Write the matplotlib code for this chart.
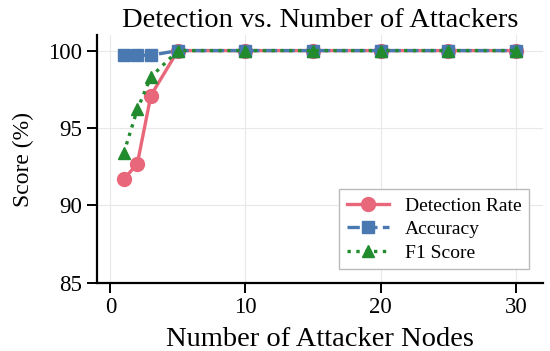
import matplotlib
matplotlib.use("Agg")
import matplotlib.pyplot as plt

plt.rcParams['font.family'] = ['Liberation Serif', 'DejaVu Serif']

# 攻击者节点数
attackers = [1, 2, 3, 5, 10, 15, 20, 25, 30]
detection_rate = [91.7, 92.7, 97.1, 100, 100, 100, 100, 100, 100]
accuracy = [99.7, 99.7, 99.7, 100, 100, 100, 100, 100, 100]
f1_score = [93.4, 96.2, 98.3, 100, 100, 100, 100, 100, 100]

fig, ax = plt.subplots(figsize=(5.5, 3.51), dpi=100)

ax.plot(attackers, detection_rate, '-o', color='#e8677a', lw=2.4, ms=10,
        label='Detection Rate')
ax.plot(attackers, accuracy, '--s', color='#4a78b0', lw=2.4, ms=8,
        label='Accuracy')
ax.plot(attackers, f1_score, ':^', color='#228b2e', lw=2.4, ms=8,
        label='F1 Score')

ax.set_title('Detection vs. Number of Attackers', fontsize=20.5, pad=6)
ax.set_xlabel('Number of Attacker Nodes', fontsize=20.5, labelpad=6)
ax.set_ylabel('Score (%)', fontsize=17, labelpad=10)
ax.set_xlim(-1, 32)
ax.set_ylim(85, 101)
ax.set_xticks([0, 10, 20, 30])
ax.set_yticks([85, 90, 95, 100])
ax.tick_params(labelsize=16.5, width=1.4, length=7)
ax.grid(True, color='#e8e8e8', lw=0.8)
for s in ['top', 'right']:
    ax.spines[s].set_visible(False)
for s in ['left', 'bottom']:
    ax.spines[s].set_linewidth(1.6)

leg = ax.legend(loc='lower right', fontsize=14, fancybox=False,
                edgecolor='#bbbbbb', framealpha=1, borderaxespad=0.7,
                handlelength=2.2, labelspacing=0.3)

plt.subplots_adjust(left=0.176, right=0.987, top=0.90, bottom=0.194)
plt.savefig('out.png')
